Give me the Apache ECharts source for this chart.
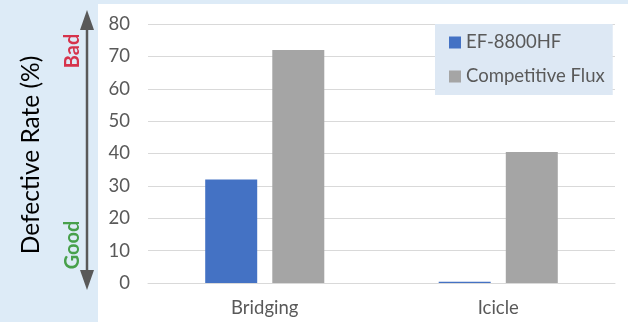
<!DOCTYPE html>
<html>
<head>
<meta charset="utf-8">
<script src="https://cdn.jsdelivr.net/npm/echarts@6/dist/echarts.min.js"></script>
<style>html,body{margin:0;padding:0;background:#ddebf7;}#c{width:628px;height:322px;}</style>
</head>
<body>
<div id="c"></div>
<script>
const categories = ['Bridging', 'Icicle'];
const seriesNames = ['EF-8800HF', 'Competitive Flux'];
const ef8800hf = [32, 0.4];
const competitive = [72, 40.5];
const yTicks = [0, 10, 20, 30, 40, 50, 60, 70, 80];

const FONT = 'Lato';
const chart = echarts.init(document.getElementById('c'), null, {renderer: 'canvas'});
chart.setOption({
  backgroundColor: '#ddebf7',
  animation: false,
  textStyle: {fontFamily: FONT},
  grid: {left: 148, right: 13, top: 24, bottom: 39, containLabel: false},
  legend: {
    orient: 'vertical',
    left: 435, top: 24,
    backgroundColor: '#dde8f4',
    padding: [9, 8, 9, 14],
    itemGap: 15,
    itemWidth: 12, itemHeight: 12,
    icon: 'rect',
    textStyle: {fontFamily: FONT, fontSize: 18.5, color: '#595959'},
    data: seriesNames
  },
  xAxis: {
    type: 'category',
    data: categories,
    axisLine: {lineStyle: {color: '#d9d9d9', width: 1}},
    axisTick: {show: false},
    axisLabel: {fontFamily: FONT, fontSize: 18.5, color: '#595959', margin: 16}
  },
  yAxis: {
    type: 'value',
    min: yTicks[0], max: yTicks[yTicks.length - 1], interval: 10,
    axisLine: {show: false},
    axisTick: {show: false},
    splitLine: {lineStyle: {color: '#d9d9d9', width: 1}},
    axisLabel: {fontFamily: FONT, fontSize: 18.5, color: '#595959', margin: 18}
  },
  series: [
    {name: seriesNames[0], type: 'bar', data: ef8800hf, barWidth: 52, barGap: '29%',
     itemStyle: {color: '#4472c4'}},
    {name: seriesNames[1], type: 'bar', data: competitive, barWidth: 52,
     itemStyle: {color: '#a5a5a5'}}
  ],
  graphic: [
    {type: 'rect', z: -10, silent: true, shape: {x: 98, y: 4, width: 530, height: 318}, style: {fill: '#ffffff'}},
    {type: 'line', shape: {x1: 87, y1: 26, x2: 87, y2: 274}, style: {stroke: '#595959', lineWidth: 2.5}},
    {type: 'polygon', shape: {points: [[87, 10], [80, 30], [94, 30]]}, style: {fill: '#595959'}},
    {type: 'polygon', shape: {points: [[87, 290], [80, 270], [94, 270]]}, style: {fill: '#595959'}},
    {type: 'text', x: 31, y: 155, rotation: Math.PI / 2,
     style: {text: 'Defective Rate (%)', fontFamily: FONT, fontSize: 24.5, fill: '#000000', align: 'center', verticalAlign: 'middle'}},
    {type: 'text', x: 73, y: 51, rotation: Math.PI / 2,
     style: {text: 'Bad', fontFamily: FONT, fontSize: 20, fontWeight: 'bold', fill: '#d6334c', align: 'center', verticalAlign: 'middle'}},
    {type: 'text', x: 73, y: 245, rotation: Math.PI / 2,
     style: {text: 'Good', fontFamily: FONT, fontSize: 20, fontWeight: 'bold', fill: '#47a04b', align: 'center', verticalAlign: 'middle'}}
  ]
});
</script>
</body>
</html>
